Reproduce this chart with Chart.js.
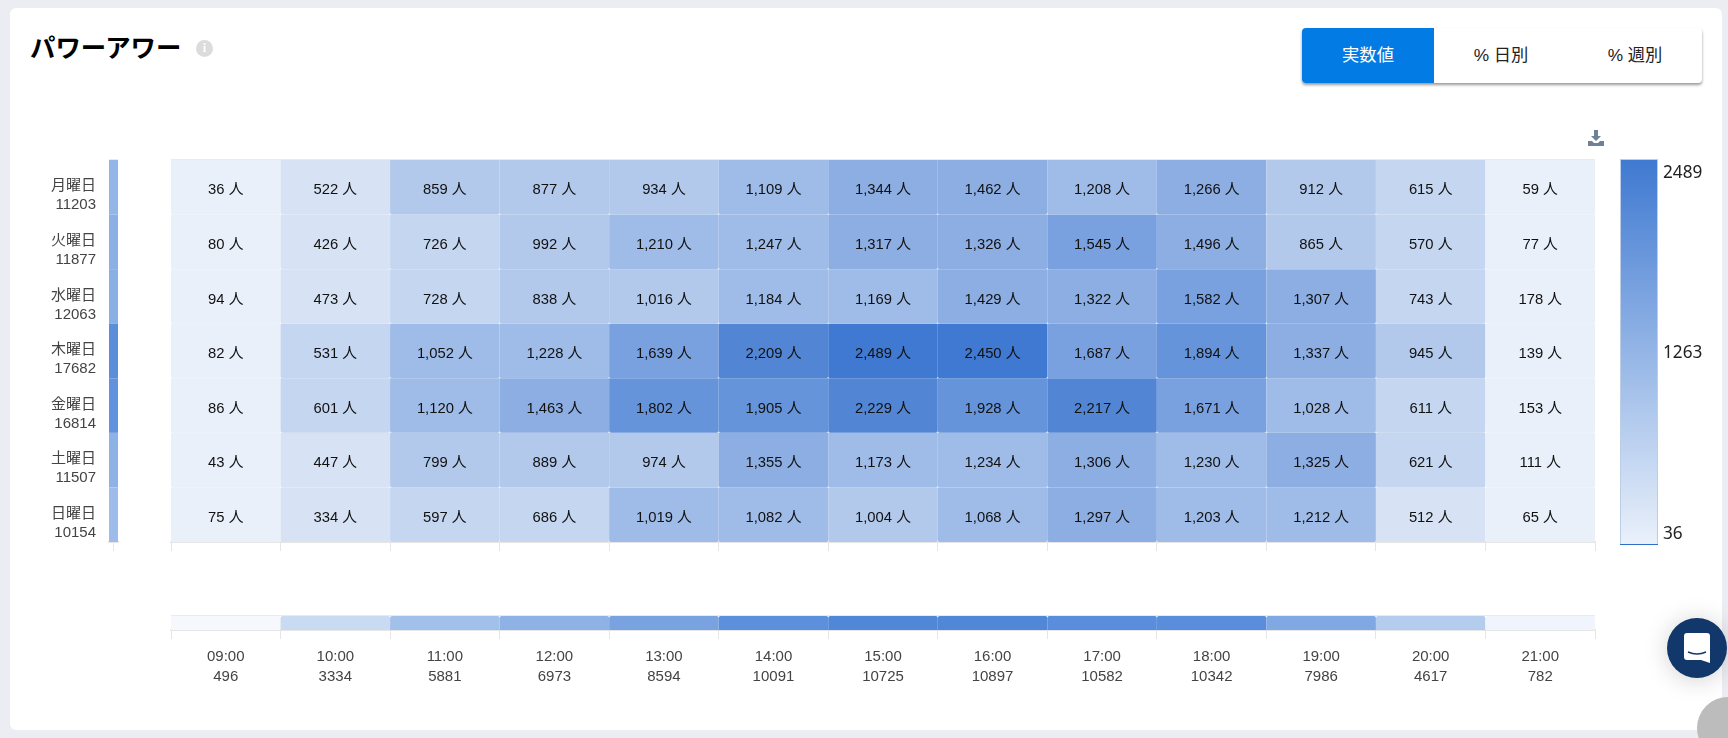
<!DOCTYPE html>
<html lang="ja">
<head>
<meta charset="utf-8">
<title>パワーアワー</title>
<script src="https://cdn.jsdelivr.net/npm/chart.js@4/dist/chart.umd.min.js"></script>
<style>
  html, body { margin: 0; padding: 0; width: 1728px; height: 738px; overflow: hidden; background: #ecedf2; }
  body { position: relative; font-family: "Liberation Sans", "Noto Sans CJK JP", sans-serif; }
  canvas { position: absolute; }
  .card { position: absolute; left: 10px; top: 8px; width: 1712px; height: 722px; background: #fff; border-radius: 6px; }
  .title { position: absolute; left: 30px; top: 28px; font: 700 25.4px/36px "Noto Sans CJK JP", sans-serif; color: #000; white-space: nowrap; }
  .info { position: absolute; left: 196px; top: 40px; width: 17px; height: 17px; border-radius: 50%; background: #dcdcdc; color: #fff; font: 700 12px/17px "Liberation Serif", serif; text-align: center; }
  .tabs { position: absolute; left: 1302px; top: 28px; width: 400px; height: 55px; display: flex; border-radius: 4px; background: #fff; box-shadow: 0 2px 3px rgba(0,0,0,.4); overflow: hidden; }
  .tabs div { flex: 0 0 134px; text-align: center; font: 17.3px/55px "Liberation Sans", "Noto Sans CJK JP", sans-serif; color: #222; }
  .tabs .on { flex-basis: 132px; background: #037be4; color: #fff; }
  .dl { position: absolute; left: 1588px; top: 130px; width: 16px; height: 16px; }
  .bubble { position: absolute; left: 1667px; top: 618px; width: 60px; height: 60px; border-radius: 50%; background: #12376b; box-shadow: 0 2px 24px rgba(0,0,0,.18); }
  .bubble svg { position: absolute; left: 17px; top: 15px; }
  .scroll { position: absolute; left: 1697px; top: 697px; width: 62px; height: 62px; border-radius: 50%; background: #bcbcbc; }
</style>
</head>
<body>
<div class="card"></div>
<div class="title">パワーアワー</div>
<div class="info">i</div>
<div class="tabs"><div class="on">実数値</div><div>% 日別</div><div>% 週別</div></div>
<svg class="dl" viewBox="0 0 16 16"><path fill="#6d8299" d="M6 0h4v6h3l-5 5-5-5h3zM0 11h4l2 2h4l2-2h4v5H0z"/></svg>
<canvas id="heat" style="left:170px;top:159px" width="1426" height="395"></canvas>
<canvas id="days" style="left:20px;top:159px" width="110" height="395"></canvas>
<canvas id="hours" style="left:170px;top:614px" width="1426" height="74"></canvas>
<canvas id="scale" style="left:1619px;top:150px" width="100" height="410"></canvas>
<div class="bubble"><svg width="26" height="30" viewBox="0 0 26 30"><path fill="#fff" d="M3 0h20a3 3 0 0 1 3 3v27l-9-3H3a3 3 0 0 1-3-3V3a3 3 0 0 1 3-3z"/><path fill="none" stroke="#12376b" stroke-width="1.6" d="M4 19q9 4 18 0"/></svg></div>
<div class="scroll"></div>
<script>
// --- data ---
const hours = ["09:00","10:00","11:00","12:00","13:00","14:00","15:00","16:00","17:00","18:00","19:00","20:00","21:00"];
const hourTotals = [496,3334,5881,6973,8594,10091,10725,10897,10582,10342,7986,4617,782];
const days = ["月曜日","火曜日","水曜日","木曜日","金曜日","土曜日","日曜日"];
const dayTotals = [11203,11877,12063,17682,16814,11507,10154];
const mon = [36,522,859,877,934,1109,1344,1462,1208,1266,912,615,59];
const tue = [80,426,726,992,1210,1247,1317,1326,1545,1496,865,570,77];
const wed = [94,473,728,838,1016,1184,1169,1429,1322,1582,1307,743,178];
const thu = [82,531,1052,1228,1639,2209,2489,2450,1687,1894,1337,945,139];
const fri = [86,601,1120,1463,1802,1905,2229,1928,2217,1671,1028,611,153];
const sat = [43,447,799,889,974,1355,1173,1234,1306,1230,1325,621,111];
const sun = [75,334,597,686,1019,1082,1004,1068,1297,1203,1212,512,65];
const rows = [mon,tue,wed,thu,fri,sat,sun];
const scaleTicks = [36,1263,2489];

// --- colours ---
const binColors = ["#e9f0fa","#d7e3f5","#c5d6f0","#b2c9ec","#9fbce8","#8caee3","#79a1df","#6594da","#5286d5","#3f79d1"];
const dayColors = ["#93b5e7","#8cb0e5","#8aafe4","#5a8edb","#6192dd","#8fb2e6","#9dbcea"];
const hourColors = ["#f5f8fc","#c9dbf3","#a1c0ea","#8fb2e6","#78a3e0","#5d90dc","#5187d7","#5187d7","#5a8ddb","#5a8ddb","#80a8e2","#b4cdef","#f0f4fc"];
const axisColor = "#e6e6e6";
const labelFont = '"Liberation Sans","Noto Sans CJK JP",sans-serif';

const minVal = scaleTicks[0], maxVal = scaleTicks[2];
function binColor(v) {
    const i = Math.min(binColors.length - 1, Math.floor((v - minVal) / (maxVal - minVal) * binColors.length));
    return binColors[i];
}

Chart.defaults.animation = false;
Chart.defaults.responsive = false;
Chart.defaults.plugins.legend.display = false;
Chart.defaults.plugins.tooltip.enabled = false;

const barStyle = { barPercentage: 1, categoryPercentage: 1, inflateAmount: 0, grouped: false, borderRadius: 2 };
const tickGrid = { offset: true, drawOnChartArea: false, tickLength: 9, tickColor: axisColor, tickWidth: 1 };

// pale line along the top of each strip
const topLine = {
    id: "topLine",
    afterDatasetsDraw(chart) {
        const a = chart.chartArea;
        chart.ctx.fillStyle = "#e8eaee";
        chart.ctx.fillRect(a.left, a.top - 1, a.width, 1);
    }
};

// value text inside each cell
const cellLabels = {
    id: "cellLabels",
    afterDatasetsDraw(chart) {
        const ctx = chart.ctx;
        ctx.save();
        ctx.font = "14.8px " + labelFont;
        ctx.fillStyle = "#111";
        ctx.textAlign = "center";
        ctx.textBaseline = "middle";
        chart.data.datasets.forEach((ds, i) => {
            chart.getDatasetMeta(i).data.forEach((el, j) => {
                const c = el.getCenterPoint();
                ctx.fillText(ds.data[j].v.toLocaleString("en-US") + " 人", c.x, c.y + 3);
            });
        });
        ctx.restore();
    }
};

// main grid
new Chart(document.getElementById("heat"), {
    type: "bar",
    data: {
        labels: hours,
        datasets: rows.map((row, i) => ({
            data: row.map((v, j) => ({ x: hours[j], y: [i, i + 1], v: v })),
            backgroundColor: row.map(binColor)
        }))
    },
    options: {
        ...barStyle,
        layout: { padding: { left: 1, right: 1, top: 1, bottom: 0 } },
        scales: {
            x: {
                grid: tickGrid,
                border: { color: axisColor, width: 2 },
                ticks: { display: false },
                afterFit(s) { s.height = 12; }
            },
            y: { display: false, reverse: true, min: 0, max: days.length }
        }
    },
    plugins: [topLine, cellLabels]
});

// weekday strip on the left, labels come from the category axis
new Chart(document.getElementById("days"), {
    type: "bar",
    data: {
        labels: days.map((d, i) => [d, String(dayTotals[i])]),
        datasets: [{
            data: dayTotals.map(() => [0, 1]),
            backgroundColor: dayColors
        }]
    },
    options: {
        ...barStyle,
        borderRadius: 0,
        indexAxis: "y",
        layout: { padding: { top: 1, bottom: 0, right: 12 } },
        scales: {
            y: {
                grid: { display: false },
                border: { display: false },
                afterFit(s) { s.width = 89; s.paddingTop = 0; s.paddingBottom = 0; },
                ticks: {
                    color: "#444",
                    padding: 5,
                    labelOffset: 8.5,
                    autoSkip: false,
                    font: { size: 15, family: labelFont, lineHeight: 1.27 }
                }
            },
            x: {
                min: 0, max: 1,
                grid: { drawOnChartArea: false, tickLength: 9, tickColor: axisColor, tickWidth: 1 },
                border: { color: axisColor, width: 2 },
                ticks: { callback: () => "", padding: 0, font: { size: 1 } },
                afterBuildTicks(s) { s.ticks = [{ value: 0.5 }]; },
                afterFit(s) { s.height = 12; s.paddingLeft = 0; s.paddingRight = 0; }
            }
        }
    },
    plugins: [topLine]
});

// hourly strip at the bottom, labels come from the category axis
new Chart(document.getElementById("hours"), {
    type: "bar",
    data: {
        labels: hours.map((h, i) => [h, String(hourTotals[i])]),
        datasets: [{
            data: hourTotals.map(() => [0, 1]),
            backgroundColor: hourColors
        }]
    },
    options: {
        ...barStyle,
        layout: { padding: { left: 1, right: 1, top: 2, bottom: 0 } },
        scales: {
            x: {
                grid: tickGrid,
                border: { color: axisColor, width: 2 },
                ticks: {
                    color: "#444",
                    padding: 8,
                    maxRotation: 0,
                    autoSkip: false,
                    font: { size: 15, family: labelFont, lineHeight: 1.33 }
                },
                afterFit(s) { s.height = 58; }
            },
            y: { display: false, min: 0, max: 1 }
        }
    },
    plugins: [topLine]
});

// colour scale on the right
const scaleLabels = {
    id: "scaleLabels",
    afterDatasetsDraw(chart) {
        const ctx = chart.ctx, area = chart.chartArea, y = chart.scales.y;
        ctx.save();
        ctx.fillStyle = "#2f6fca";
        ctx.fillRect(area.left, y.getPixelForValue(scaleTicks[0]) - 1, area.width, 1);
        ctx.font = '17.2px "Noto Sans",sans-serif';
        ctx.fillStyle = "#222";
        ctx.textAlign = "left";
        ctx.textBaseline = "middle";
        // end labels sit inside the bar's height
        const shift = [-11, 1, 14];
        scaleTicks.forEach((t, i) => ctx.fillText(String(t), area.right + 5, y.getPixelForValue(t) + shift[i]));
        ctx.restore();
    }
};

new Chart(document.getElementById("scale"), {
    type: "bar",
    data: {
        labels: [""],
        datasets: [{
            data: [[scaleTicks[0], scaleTicks[2]]],
            borderWidth: 1,
            borderColor: "#bccde6",
            borderSkipped: false,
            backgroundColor(c) {
                const a = c.chart.chartArea;
                if (!a) return binColors[0];
                const g = c.chart.ctx.createLinearGradient(0, a.top, 0, a.bottom);
                g.addColorStop(0, "#3f79d1");
                g.addColorStop(0.5, "#94b5e6");
                g.addColorStop(1, "#eaf1fb");
                return g;
            }
        }]
    },
    options: {
        ...barStyle,
        borderRadius: 0,
        layout: { padding: { left: 1, right: 61, top: 9, bottom: 15 } },
        scales: {
            x: { display: false },
            y: { display: false, min: scaleTicks[0], max: scaleTicks[2] }
        }
    },
    plugins: [scaleLabels]
});
</script>
</body>
</html>
